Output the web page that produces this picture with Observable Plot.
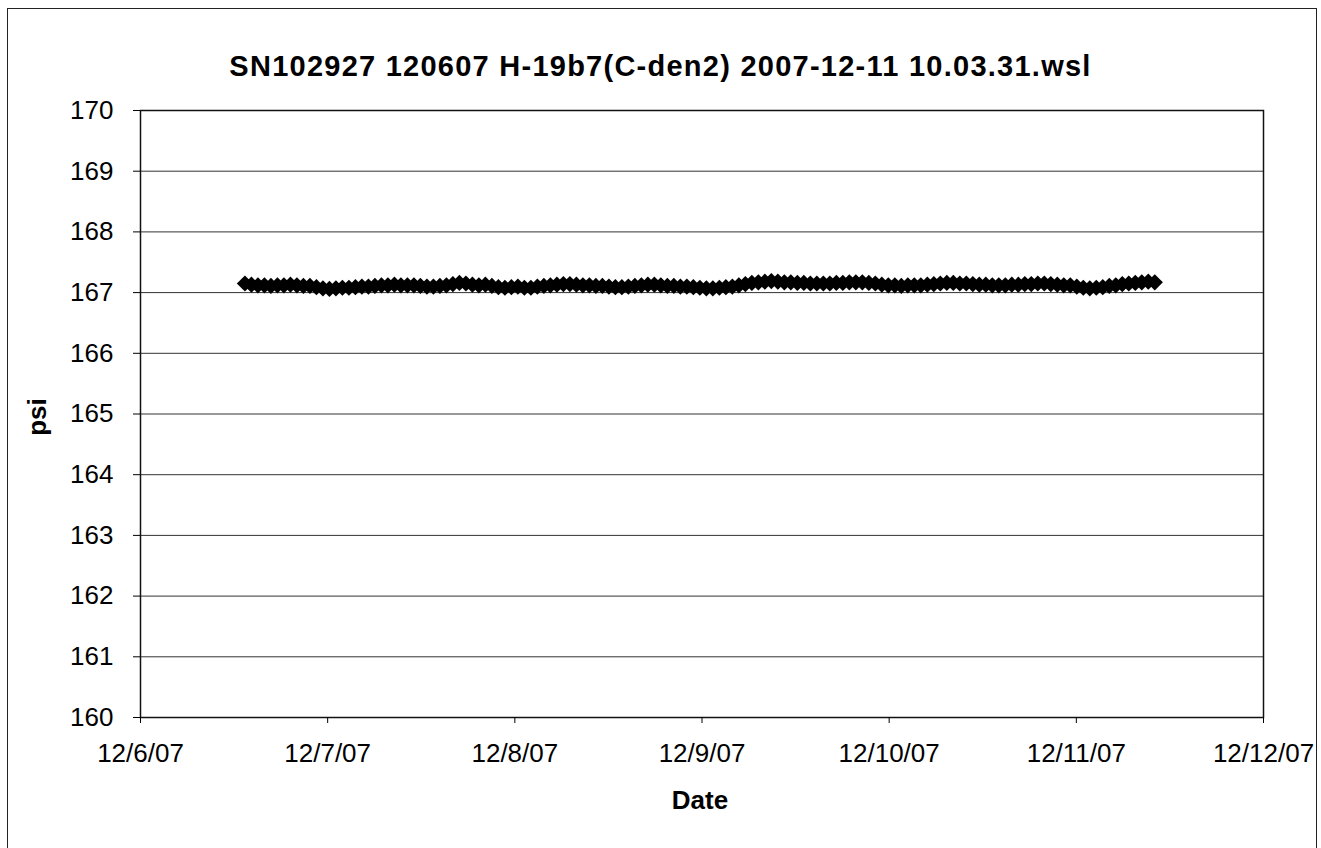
<!DOCTYPE html>
<html>
<head>
<meta charset="utf-8">
<script src="https://cdn.jsdelivr.net/npm/d3@7"></script>
<script src="https://cdn.jsdelivr.net/npm/@observablehq/plot@0.6"></script>
<style>
  html, body { margin: 0; padding: 0; background: #fff; }
  #wrap { position: relative; width: 1321px; height: 848px; overflow: hidden; font-family: "Liberation Sans", Arial, sans-serif; }
  #border { position: absolute; left: 7px; top: 8px; width: 1310px; height: 850px; border: 1.5px solid #222; box-sizing: border-box; }
  #title { position: absolute; left: 0; width: 1321px; top: 50px; text-align: center; font-weight: bold; font-size: 29px; letter-spacing: 1.25px; color: #000; }
  #ylab { position: absolute; left: 37px; top: 417px; transform: translate(-50%, -50%) rotate(-90deg); font-weight: bold; font-size: 26px; }
  #xlab { position: absolute; left: 700px; top: 800px; transform: translate(-50%, -50%); font-weight: bold; font-size: 26px; }
  #chart { position: absolute; left: 0; top: 0; }
</style>
</head>
<body>
<div id="wrap">
  <div id="border"></div>
  <div id="chart"></div>
  <div id="title">SN102927 120607 H-19b7(C-den2) 2007-12-11 10.03.31.wsl</div>
  <div id="ylab">psi</div>
  <div id="xlab">Date</div>
</div>
<script>
// Logger settings (first reading, sampling interval in minutes)
const startTime = new Date(2007, 11, 6, 13, 23, 31);
const intervalMinutes = 50;

// Pressure readings (psi)
const psi = [
  167.15, 167.13, 167.12, 167.12, 167.11, 167.12, 167.12, 167.13, 167.12, 167.11,
  167.11, 167.09, 167.07, 167.06, 167.07, 167.08, 167.08, 167.09, 167.10, 167.10,
  167.11, 167.12, 167.12, 167.13, 167.12, 167.12, 167.12, 167.11, 167.10, 167.10,
  167.11, 167.12, 167.14, 167.16, 167.15, 167.13, 167.12, 167.13, 167.11, 167.09,
  167.08, 167.09, 167.10, 167.08, 167.08, 167.10, 167.11, 167.12, 167.13, 167.14,
  167.14, 167.13, 167.12, 167.12, 167.11, 167.11, 167.10, 167.09, 167.09, 167.10,
  167.11, 167.12, 167.13, 167.13, 167.12, 167.11, 167.11, 167.10, 167.10, 167.09,
  167.08, 167.07, 167.07, 167.08, 167.09, 167.10, 167.12, 167.14, 167.16, 167.17,
  167.18, 167.19, 167.18, 167.17, 167.17, 167.16, 167.16, 167.15, 167.15, 167.15,
  167.15, 167.16, 167.16, 167.17, 167.17, 167.17, 167.16, 167.15, 167.13, 167.12,
  167.12, 167.11, 167.12, 167.12, 167.12, 167.13, 167.14, 167.15, 167.16, 167.16,
  167.15, 167.15, 167.14, 167.13, 167.13, 167.12, 167.12, 167.12, 167.13, 167.13,
  167.14, 167.14, 167.15, 167.15, 167.14, 167.13, 167.12, 167.12, 167.10, 167.08,
  167.07, 167.08, 167.09, 167.11, 167.12, 167.14, 167.15, 167.16, 167.17, 167.18,
  167.17
];

// Axis ticks
const xTicks = ["2007-12-06", "2007-12-07", "2007-12-08", "2007-12-09", "2007-12-10", "2007-12-11", "2007-12-12"];
const yTicks = [160, 161, 162, 163, 164, 165, 166, 167, 168, 169, 170];

const parseDay = s => { const [y, m, d] = s.split("-").map(Number); return new Date(y, m - 1, d); };
const xTickDates = xTicks.map(parseDay);

const data = psi.map((v, i) => ({ date: d3.timeMinute.offset(startTime, i * intervalMinutes), psi: v }));

const chart = Plot.plot({
  width: 1321,
  height: 848,
  marginLeft: 140,
  marginRight: 58,
  marginTop: 110,
  marginBottom: 131,
  style: { fontFamily: "'Liberation Sans', Arial, sans-serif", fontSize: "26px", color: "#000", background: "transparent" },
  x: { type: "time", domain: [xTickDates[0], xTickDates[xTickDates.length - 1]], ticks: xTickDates, label: null },
  y: { domain: [160, 170], ticks: yTicks, label: null },
  marks: [
    Plot.gridY(yTicks, { stroke: "#333", strokeOpacity: 1, strokeWidth: 1 }),
    Plot.frame({ stroke: "#111", strokeWidth: 1.5 }),
    Plot.axisY(yTicks, { tickSize: 7, tickPadding: 20, tickFormat: d => String(d), stroke: "#000", label: null }),
    Plot.axisX(xTickDates, { tickSize: 6, tickPadding: 20, tickFormat: d3.timeFormat("%-m/%-d/%y"), stroke: "#000", label: null }),
    Plot.line(data, { x: "date", y: "psi", stroke: "#000", strokeWidth: 1.5 }),
    Plot.dot(data, { x: "date", y: "psi", symbol: "diamond2", r: 7.3, fill: "#000", stroke: "none" })
  ]
});
document.getElementById("chart").appendChild(chart);
</script>
</body>
</html>
